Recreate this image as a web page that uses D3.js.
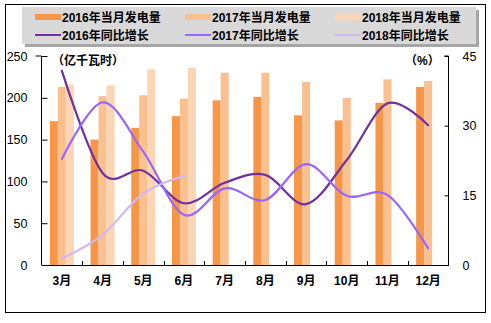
<!DOCTYPE html>
<html><head><meta charset="utf-8">
<script src="https://cdn.jsdelivr.net/npm/d3@7"></script>
<style>body{margin:0;background:#fff;} svg{display:block;}</style>
</head><body>
<script>
const months = ["3月","4月","5月","6月","7月","8月","9月","10月","11月","12月"];
const gen2016 = [172,150,164,178,197,201,179,173,194,213];
const gen2017 = [213,202,203,199,230,230,219,200,222,220];
const gen2018 = [216,215,234,236,null,null,null,null,null,null];
const yoy2016 = [41.8,19.8,20.3,13.3,17.7,19.4,13.1,22.6,34.8,30.1];
const yoy2017 = [22.8,35.0,24.4,10.8,16.5,14.0,21.7,14.9,15.1,3.6];
const yoy2018 = [1.4,6.5,15.4,19.2,null,null,null,null,null,null];
const leftTicks = [0,50,100,150,200,250];
const rightTicks = [0,15,30,45];
const barNames = ["2016年当月发电量","2017年当月发电量","2018年当月发电量"];
const lineNames = ["2016年同比增长","2017年同比增长","2018年同比增长"];
const barColors = ["#F79646","#FAC090","#FCD5B5"];
const lineColors = ["#7030A0","#9966FF","#D2B8F2"];

const W=491,H=323;
const svg=d3.select("body").append("svg").attr("width",W).attr("height",H);
const font='"Liberation Sans","Noto Sans CJK SC",Arial,sans-serif';

svg.append("rect").attr("x",5.5).attr("y",4.5).attr("width",480).attr("height",308)
  .attr("fill","#fff").attr("stroke","#000").attr("stroke-width",1);

const L=41.5,R=448.5,T=56,B=265;
const x=d3.scaleBand().domain(months).range([L,R]);
const yL=d3.scaleLinear().domain([0,250]).range([B,T]);
const yR=d3.scaleLinear().domain([0,45]).range([B,T]);
const bw=8;
const xs=d3.scaleBand().domain([0,1,2]).range([0,bw*3]);

// bars
[gen2016,gen2017,gen2018].forEach((arr,si)=>{
  svg.append("g").selectAll("rect").data(arr.map((v,i)=>({v,m:months[i]})).filter(d=>d.v!=null))
   .join("rect")
   .attr("x",d=>x(d.m)+x.bandwidth()/2-bw*1.5+xs(si))
   .attr("width",bw)
   .attr("y",d=>yL(d.v)).attr("height",d=>B-yL(d.v))
   .attr("fill",barColors[si]);
});

// lines
[yoy2016,yoy2017,yoy2018].forEach((arr,si)=>{
  const pts=arr.map((v,i)=>({v,m:months[i]})).filter(d=>d.v!=null);
  const line=d3.line().x(d=>x(d.m)+x.bandwidth()/2).y(d=>yR(d.v)).curve(d3.curveCatmullRom.alpha(0));
  svg.append("path").attr("d",line(pts)).attr("fill","none")
    .attr("stroke",lineColors[si]).attr("stroke-width",2.2).attr("stroke-linecap","round");
});

// axes
const axL=d3.axisLeft(yL).tickValues(leftTicks).tickSize(-6).tickPadding(14);
const gL=svg.append("g").attr("transform",`translate(${L},0)`).call(axL);
const axR=d3.axisRight(yR).tickValues(rightTicks).tickSize(-4).tickPadding(14);
const gR=svg.append("g").attr("transform",`translate(${R},0)`).call(axR);
const axB=d3.axisBottom(x).tickSize(0).tickPadding(11);
const gB=svg.append("g").attr("transform",`translate(0,${B})`).call(axB);
// inner ticks between categories
svg.append("g").selectAll("line").data(months.slice(1)).join("line")
  .attr("x1",d=>Math.round(x(d))+0.5).attr("x2",d=>Math.round(x(d))+0.5)
  .attr("y1",B).attr("y2",B-4).attr("stroke","#000");
[gL,gR,gB].forEach(g=>{
  g.selectAll(".domain").attr("stroke","#000").attr("stroke-width",1);
  g.selectAll(".tick line").attr("stroke","#000");
  g.selectAll("text").attr("fill","#000").style("font-family",font);
});
gL.selectAll("text").style("font-size","12.5px");
gR.selectAll("text").style("font-size","12.5px");
gB.selectAll("text").style("font-size","12px").style("font-weight","bold");
gL.select(".domain").attr("d",`M-6,${T}H0V${B}`);
gR.select(".domain").attr("d",`M-4,${T}H0V${B}`);

// unit labels
svg.append("text").attr("x",52).attr("y",65).text("（亿千瓦时）")
  .style("font-family",font).style("font-size","12px").style("font-weight","bold");
svg.append("text").attr("x",405).attr("y",65).text("（%）")
  .style("font-family",font).style("font-size","12px").style("font-weight","bold");

// legend
svg.append("rect").attr("x",25).attr("y",10).attr("width",454).attr("height",37).attr("fill","#A6A6A6");
svg.append("rect").attr("x",22).attr("y",7).attr("width",454).attr("height",37).attr("fill","#D9D9D9");
const cols=[35,185,335];
barNames.forEach((n,i)=>{
  svg.append("rect").attr("x",cols[i]).attr("y",14).attr("width",26).attr("height",6).attr("fill",barColors[i]);
  svg.append("text").attr("x",cols[i]+27).attr("y",21.5).text(n)
    .style("font-family",font).style("font-size","12px").style("font-weight","bold");
});
lineNames.forEach((n,i)=>{
  svg.append("line").attr("x1",cols[i]).attr("x2",cols[i]+26).attr("y1",35).attr("y2",35)
    .attr("stroke",lineColors[i]).attr("stroke-width",2);
  svg.append("text").attr("x",cols[i]+27).attr("y",39.5).text(n)
    .style("font-family",font).style("font-size","12px").style("font-weight","bold");
});
</script>
</body></html>
